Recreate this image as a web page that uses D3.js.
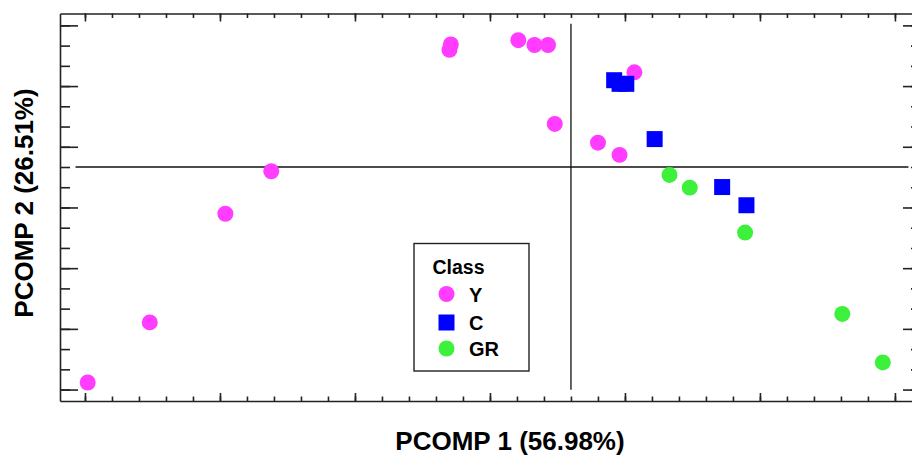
<!DOCTYPE html>
<html>
<head>
<meta charset="utf-8">
<script src="https://cdn.jsdelivr.net/npm/d3@7"></script>
<style>
  body { margin: 0; background: #fff; }
  svg { display: block; font-family: "Liberation Sans", Arial, sans-serif; }
  .axis path, .axis line { stroke: #222; stroke-width: 1.6; }
  .zero { stroke: #111; stroke-width: 1.3; }
  .title { font-weight: bold; font-size: 26px; fill: #000; }
  .legend-title { font-weight: bold; font-size: 19.5px; }
  .legend-label { font-weight: bold; font-size: 20px; }
</style>
</head>
<body>
<div id="chart"></div>
<script>
// PCA scores
const classes = ['Y', 'C', 'GR']
const colors = ['#ff3cff', '#0000ff', '#3cf03c']

const yX = [-3.58, -3.12, -2.56, -2.22, -0.89, -0.90, -0.39, -0.27, -0.17, -0.12, 0.20, 0.36, 0.47]
const yY = [-3.55, -2.56, -0.77, -0.07, 2.02, 1.93, 2.09, 2.01, 2.01, 0.71, 0.40, 0.20, 1.56]

const cX = [0.32, 0.36, 0.41, 0.62, 1.12, 1.30]
const cY = [1.43, 1.37, 1.37, 0.46, -0.33, -0.63]

const grX = [0.73, 0.88, 1.29, 2.01, 2.31]
const grY = [-0.13, -0.34, -1.08, -2.42, -3.22]

const xDomain = [-3.785, 2.593]
const yDomain = [-3.855, 2.529]
const xMajor = [-3.6, -2.6, -1.6, -0.6, 0.4, 1.4, 2.4]
const xMinor = d3.range(-3.6, 2.61, 0.2)
const yMajor = [-11/3, -8/3, -5/3, -2/3, 1/3, 4/3, 7/3]
const yMinor = d3.range(-11, 8).map(k => k / 3)

const xTitle = 'PCOMP 1 (56.98%)'
const yTitle = 'PCOMP 2 (26.51%)'

const width = 912
const height = 455
const margin = {top: 13.5, right: -9, bottom: 54, left: 60}

const svg = d3.select('#chart').append('svg')
  .attr('width', width)
  .attr('height', height)

const x = d3.scaleLinear().domain(xDomain).range([margin.left, width - margin.right])
const y = d3.scaleLinear().domain(yDomain).range([height - margin.bottom, margin.top])

const noLabel = () => ''

// frame with inward ticks on all four sides
const topAxis = svg.append('g').attr('class', 'axis').attr('transform', `translate(0,${margin.top})`)
topAxis.call(d3.axisBottom(x).tickValues(xMajor).tickSize(8).tickSizeOuter(0).tickFormat(noLabel))
topAxis.append('g').call(d3.axisBottom(x).tickValues(xMinor).tickSize(4.5).tickFormat(noLabel))
  .call(g => g.select('.domain').remove())

const bottomAxis = svg.append('g').attr('class', 'axis').attr('transform', `translate(0,${height - margin.bottom})`)
bottomAxis.call(d3.axisTop(x).tickValues(xMajor).tickSize(8).tickSizeOuter(0).tickFormat(noLabel))
bottomAxis.append('g').call(d3.axisTop(x).tickValues(xMinor).tickSize(4.5).tickFormat(noLabel))
  .call(g => g.select('.domain').remove())

const leftAxis = svg.append('g').attr('class', 'axis').attr('transform', `translate(${margin.left},0)`)
leftAxis.call(d3.axisRight(y).tickValues(yMajor).tickSize(18).tickSizeOuter(0).tickFormat(noLabel))
leftAxis.append('g').call(d3.axisRight(y).tickValues(yMinor).tickSize(10).tickFormat(noLabel))
  .call(g => g.select('.domain').remove())

const rightAxis = svg.append('g').attr('class', 'axis').attr('transform', `translate(${width - margin.right},0)`)
rightAxis.call(d3.axisLeft(y).tickValues(yMajor).tickSize(18).tickSizeOuter(0).tickFormat(noLabel))
rightAxis.append('g').call(d3.axisLeft(y).tickValues(yMinor).tickSize(10).tickFormat(noLabel))
  .call(g => g.select('.domain').remove())

svg.selectAll('.axis text').remove()

// zero reference lines
svg.append('line').attr('class', 'zero')
  .attr('x1', x(-3.67)).attr('x2', x(2.5))
  .attr('y1', y(0)).attr('y2', y(0))
svg.append('line').attr('class', 'zero')
  .attr('x1', x(0)).attr('x2', x(0))
  .attr('y1', y(-3.67)).attr('y2', y(2.36))

const pts = (xs, ys) => xs.map((v, i) => ({x: v, y: ys[i]}))

const octagon = d3.symbol().type(d3.symbolCircle).size(200)
const square = d3.symbol().type(d3.symbolSquare).size(256)

svg.append('g').selectAll('path')
  .data(pts(yX, yY))
  .join('path')
  .attr('d', octagon)
  .attr('transform', d => `translate(${x(d.x)},${y(d.y)})`)
  .attr('fill', colors[0])

svg.append('g').selectAll('path')
  .data(pts(cX, cY))
  .join('path')
  .attr('d', square)
  .attr('transform', d => `translate(${x(d.x)},${y(d.y)})`)
  .attr('fill', colors[1])

svg.append('g').selectAll('path')
  .data(pts(grX, grY))
  .join('path')
  .attr('d', octagon)
  .attr('transform', d => `translate(${x(d.x)},${y(d.y)})`)
  .attr('fill', colors[2])

// axis titles
svg.append('text')
  .attr('class', 'title')
  .attr('x', 510)
  .attr('y', 450)
  .attr('text-anchor', 'middle')
  .text(xTitle)

svg.append('text')
  .attr('class', 'title')
  .attr('transform', 'translate(33,203) rotate(-90)')
  .attr('text-anchor', 'middle')
  .text(yTitle)

// legend
const legend = svg.append('g')
legend.append('rect')
  .attr('x', 414).attr('y', 243.5)
  .attr('width', 115).attr('height', 127.5)
  .attr('fill', '#fff')
  .attr('stroke', '#222')
  .attr('stroke-width', 1.4)

legend.append('text')
  .attr('class', 'legend-title')
  .attr('x', 432.5)
  .attr('y', 273.5)
  .text('Class')

const legendY = [294, 322.5, 348.5]
classes.forEach((c, i) => {
  legend.append('path')
    .attr('d', i === 1 ? square : octagon)
    .attr('transform', `translate(446.5,${legendY[i]})`)
    .attr('fill', colors[i])
  legend.append('text')
    .attr('class', 'legend-label')
    .attr('x', 469)
    .attr('y', legendY[i] + 7.5)
    .text(c)
})
</script>
</body>
</html>
